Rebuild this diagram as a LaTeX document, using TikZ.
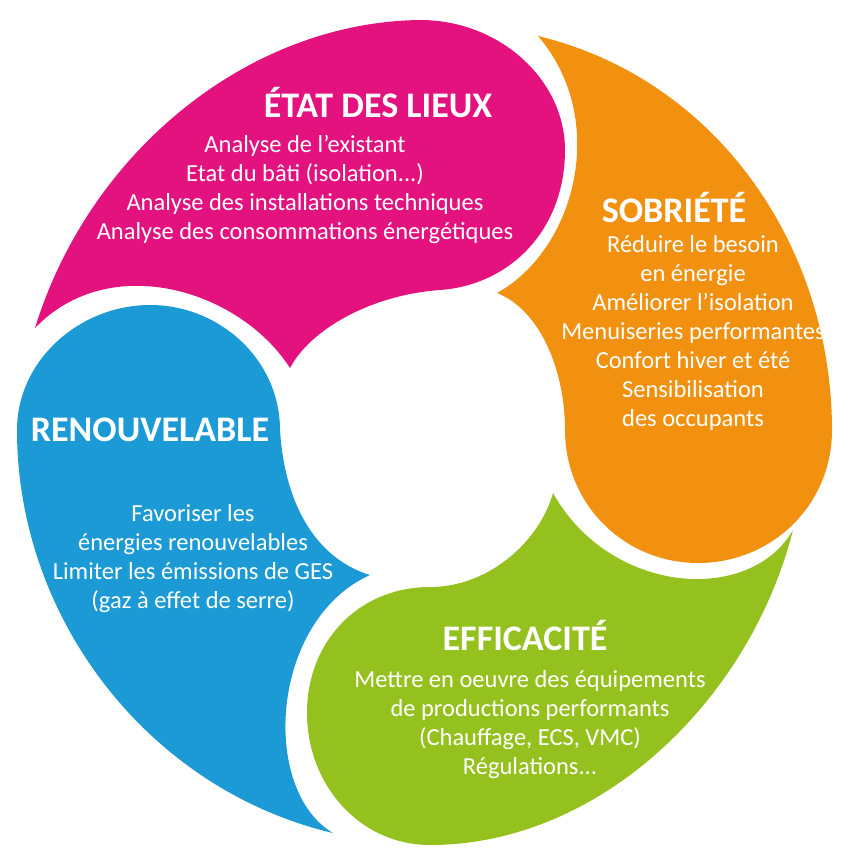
\documentclass[tikz,border=0pt]{standalone}
\usepackage{fontspec}
\setmainfont{Carlito}
\usepackage{tikz}
\usetikzlibrary{calc, positioning}
\definecolor{roseE}{RGB}{227,18,127}
\definecolor{orangeS}{RGB}{242,145,16}
\definecolor{vertE}{RGB}{149,193,31}
\definecolor{bleuR}{RGB}{27,154,214}
\tikzstyle{title} = [text=white, font=\fontsize{36}{36}\selectfont\bfseries]
\tikzstyle{body} = [text=white, align=center, font=\fontsize{24.5}{29}\selectfont]

\begin{document}
\begin{tikzpicture}[x=1pt, y=-1pt]
        \useasboundingbox (0, 0) rectangle (863, 867);
        % petales
        \fill[roseE] (35, 328) .. controls (90, 150) and (250, 22) .. (420, 20)
                .. controls (500, 20) and (565, 80) .. (565, 150)
                .. controls (565, 230) and (510, 285) .. (440, 290)
                .. controls (370, 295) and (310, 330) .. (290, 368)
                .. controls (240, 290) and (110, 250) .. cycle;
        \fill[orangeS] (538, 36) .. controls (720, 80) and (832, 250) .. (832, 430)
                .. controls (832, 505) and (772, 563) .. (698, 563)
                .. controls (625, 563) and (565, 505) .. (565, 430)
                .. controls (565, 370) and (540, 310) .. (497, 293)
                .. controls (575, 250) and (610, 120) .. cycle;
        \fill[vertE] (793, 530) .. controls (750, 700) and (600, 845) .. (430, 845)
                .. controls (360, 845) and (307, 785) .. (307, 713)
                .. controls (307, 640) and (360, 587) .. (430, 587)
                .. controls (490, 587) and (540, 540) .. (553, 493)
                .. controls (610, 595) and (750, 605) .. cycle;
        \fill[bleuR] (333, 833) .. controls (150, 790) and (17, 620) .. (17, 430)
                .. controls (17, 360) and (80, 305) .. (150, 305)
                .. controls (220, 305) and (280, 360) .. (280, 430)
                .. controls (285, 510) and (320, 560) .. (370, 575)
                .. controls (270, 620) and (260, 790) .. cycle;

        % textes
        \node[title] at (378, 103) (etat) {ÉTAT DES LIEUX};
        \node[body, anchor=north] at (305, 132) (etat_txt) {Analyse de l'existant\\Etat du bâti (isolation...)\\Analyse des installations techniques\\Analyse des consommations énergétiques};
        \node[title] at (674, 208) (sobriete) {SOBRIÉTÉ};
        \node[body, anchor=north] at (693, 232) (sobriete_txt) {Réduire le besoin\\en énergie\\Améliorer l'isolation\\Menuiseries performantes\\Confort hiver et été\\Sensibilisation\\des occupants};
        \node[title] at (150, 430) (renouvelable) {RENOUVELABLE};
        \node[body, anchor=north] at (193, 501) (renouvelable_txt) {Favoriser les\\énergies renouvelables\\Limiter les émissions de GES\\(gaz à effet de serre)};
        \node[title] at (525, 635) (efficacite) {EFFICACITÉ};
        \node[body, anchor=north] at (530, 667) (efficacite_txt) {Mettre en oeuvre des équipements\\de productions performants\\(Chauffage, ECS, VMC)\\Régulations...};
    \end{tikzpicture}
\end{document}
